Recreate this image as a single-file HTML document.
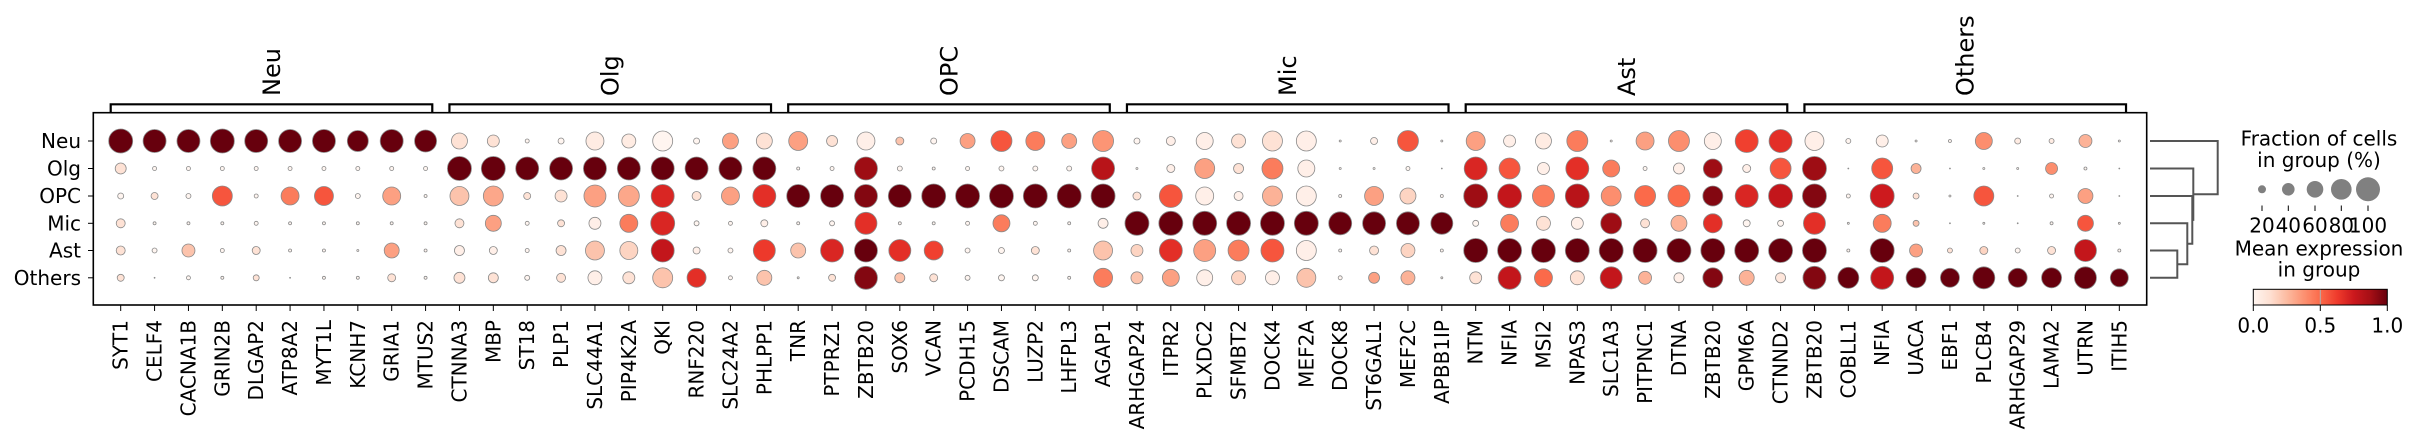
<!DOCTYPE html>
<html><head><meta charset="utf-8"><style>
html,body{margin:0;padding:0;background:#fff;}
svg{display:block;font-family:"DejaVu Sans","Liberation Sans",sans-serif;}
</style></head><body>
<svg id="s" width="2419" height="442" viewBox="0 0 2419 442" xmlns="http://www.w3.org/2000/svg">
<defs><linearGradient id="g" x1="0" x2="1" y1="0" y2="0">
<stop offset="0" stop-color="#fff5f0"/><stop offset="0.125" stop-color="#fee0d2"/><stop offset="0.25" stop-color="#fcbba1"/><stop offset="0.375" stop-color="#fc9272"/><stop offset="0.5" stop-color="#fb6a4a"/><stop offset="0.625" stop-color="#ef3b2c"/><stop offset="0.75" stop-color="#cb181d"/><stop offset="0.875" stop-color="#a50f15"/><stop offset="1" stop-color="#67000d"/>
</linearGradient></defs>
<rect x="93.3" y="112.7" width="2053.4" height="192.3" fill="none" stroke="#000" stroke-width="1.6"/>
<g id="dots"></g>
<g id="axes" font-size="20" fill="#000"></g>
<g stroke="#555" stroke-width="2" fill="none">
<path d="M2150 141H2217.7V194.2H2193.3"/>
<path d="M2150 168.5H2193.3V219.9H2192.3"/>
<path d="M2150 196H2192.3V243.7H2187.3"/>
<path d="M2150 223.3H2187.3V264.2H2177.3"/>
<path d="M2150 250.5H2177.3V277.8H2150"/>
</g>
<g font-size="20" text-anchor="middle" fill="#000">
<text x="2319" y="145.5">Fraction of cells</text>
<text x="2319" y="167">in group (%)</text>
<circle cx="2262" cy="189.3" r="4" fill="#808080"/>
<circle cx="2288.3" cy="189.3" r="6.3" fill="#808080"/>
<circle cx="2315" cy="189.3" r="8.3" fill="#808080"/>
<circle cx="2341.3" cy="189.3" r="10.3" fill="#808080"/>
<circle cx="2368" cy="189.3" r="12" fill="#808080"/>
<path d="M2262 205.5V211M2288.3 205.5V211M2315 205.5V211M2341.3 205.5V211M2368 205.5V211" stroke="#000" stroke-width="1"/>
<text x="2262" y="232.5">20</text><text x="2288.3" y="232.5">40</text><text x="2315" y="232.5">60</text><text x="2341.3" y="232.5">80</text><text x="2368" y="232.5">100</text>
<text x="2319" y="255.5">Mean expression</text>
<text x="2319" y="276.5">in group</text>
<rect x="2253.3" y="289.3" width="134" height="15.7" fill="url(#g)" stroke="#000" stroke-width="1"/>
<line x1="2320.3" y1="289.8" x2="2320.3" y2="304.5" stroke="#b0b0b0" stroke-width="1"/>
<path d="M2253.3 305V311M2320.3 305V311M2387.3 305V311" stroke="#000" stroke-width="1"/>
<text x="2253.3" y="332.5">0.0</text><text x="2320.3" y="332.5">0.5</text><text x="2387.3" y="332.5">1.0</text>
</g>
</svg>
<script>
var NS="http://www.w3.org/2000/svg";
var stops=[[255,245,240],[254,224,210],[252,187,161],[252,146,114],[251,106,74],[239,59,44],[203,24,29],[165,15,21],[103,0,13]];
function cmap(v){v=Math.max(0,Math.min(1,v));var p=v*8,i=Math.min(7,Math.floor(p)),f=p-i,a=stops[i],b=stops[i+1];
return "rgb("+[0,1,2].map(function(k){return Math.round(a[k]+(b[k]-a[k])*f)}).join(",")+")";}
var rows={
Neu:"24/9 23/9 23/9 24/9 23/9 23/9 23/9 21/9 23/9 22/9 16/1 12/1 4/0 6/0 18/0.5 14/0.5 20/0 6/0 16/3 16/1 19/3 11/1 18/0.3 8/2 6/0 15/3 21/5 19/4 15/3 21/3.3 6/0 9/0.3 17/0.3 14/1 20/1 20/0.3 2/0 7/0.3 21/5 2/0 19/3 12/0.3 16/0.5 21/4 2/0 18/3 21/3.5 17/0.3 23/5.5 23/6 19/0.3 5/0 12/0.3 2/0 3/0 17/3.5 6/0.5 5/0.5 13/2.5 2/0",
Olg:"11/1 4/0 4/0 4/0 4/0 4/0 4/0 4/0 4/0 4/0 24/9 24/9 23/9 23/9 23/9 23/9 23/9 23/9 23/9 23/9 3/0 4/0 23/8 5/0 3/0 4/0 5/0 5/0 5/0 23/7.3 2/0 8/0.3 20/3 10/1 21/4 17/0.3 2/0 2/0 4/0 1/0 23/6.3 21/5 12/0.3 23/6 17/4 4/0 11/0.3 19/8 8/0.3 21/5 24/8 1/0 21/5 10/2.5 1/0 2/0 2/0 12/3.5 3/0 1/0",
OPC:"6/0 7/1 5/0 20/5 4/0 18/4 19/5 5/0 18/3 3/0 19/2 20/2.8 7/1 12/1 22/3 21/2.8 23/6.3 9/1 18/3 23/6 23/9 23/9 23/8.5 23/9 24/9 24/9 24/9 24/9 24/9 24/9 8/1 23/5 18/0.3 9/0.3 20/2.5 20/0.3 3/0 19/3 16/1.5 3/0 24/8 24/7 22/4 24/7.3 20/3.5 21/4.5 22/4.5 20/8.5 23/6.3 24/7 24/8.5 4/0 24/6.7 6/1 2/0 20/5 1/0 4/0 15/3 1/0",
Mic:"9/1 3/0 3/0 3/0 4/0 3/0 3/0 3/0 3/0 3/0 9/1 16/3 4/0 7/1 12/0.3 18/4 24/6.3 5/0 4/0 7/0.3 3/0 5/0 22/6 3/0 3/0 4/0 17/4 4/0 3/0 10/0.3 24/9 24/9 24/9 24/9 24/9 24/9 23/9 23/9 23/9 22/9 6/0 18/4 14/1 12/0.3 21/8 9/1 16/2.5 19/6 7/0 6/0 22/6 2/0 18/4 6/2 1/0 2/0 1/0 3/0 16/5 2/0",
Ast:"9/1 5/0 13/2 4/0 8/1 3/0 3/0 2/0 15/3 3/0 10/0.3 8/0.3 4/0 10/1 19/2 18/1.5 23/7 7/0.3 5/0 22/5.7 15/2 23/6.3 23/9 22/6 19/5.5 5/0 6/0 8/1 3/0 19/2 12/1.5 23/6 22/3 21/4 23/5 20/0.3 3/0 9/1 14/1.5 3/0 24/9 24/9 24/9 24/9 24/9 24/9 24/9 24/9 24/9 24/9 24/9 3/0 24/9 13/3 5/1 8/1.5 5/0 8/1 22/7 3/0",
Others:"7/1 1/0 4/0 3/0 6/1 1/0 3/0 3/0 8/1 3/0 11/1 10/1 5/0 9/1 14/0.3 12/1 20/2 19/6 4/0 15/2 2/0 7/1 23/8.5 10/2 8/1 5/0 6/0 6/0 3/0 19/4 12/2 17/3 16/0.3 14/1.5 14/0.3 19/2 4/0 11/3 14/2.5 2/0 12/1 23/7 18/4.5 14/1 22/7 13/2.5 10/0.3 20/8.5 15/2.5 10/0.8 23/8.5 21/9 23/7 20/9 19/9 22/9 19/9 20/9 22/9 18/9"
};
var rowY={Neu:141,Olg:168.5,OPC:196,Mic:223.3,Ast:250.5,Others:277.8};
var genes="SYT1 CELF4 CACNA1B GRIN2B DLGAP2 ATP8A2 MYT1L KCNH7 GRIA1 MTUS2 CTNNA3 MBP ST18 PLP1 SLC44A1 PIP4K2A QKI RNF220 SLC24A2 PHLPP1 TNR PTPRZ1 ZBTB20 SOX6 VCAN PCDH15 DSCAM LUZP2 LHFPL3 AGAP1 ARHGAP24 ITPR2 PLXDC2 SFMBT2 DOCK4 MEF2A DOCK8 ST6GAL1 MEF2C APBB1IP NTM NFIA MSI2 NPAS3 SLC1A3 PITPNC1 DTNA ZBTB20 GPM6A CTNND2 ZBTB20 COBLL1 NFIA UACA EBF1 PLCB4 ARHGAP29 LAMA2 UTRN ITIH5".split(" ");
function cx(i){return 120.7+33.875*i;}
var dots=document.getElementById("dots"),ax=document.getElementById("axes");
function el(t,a,p,txt){var e=document.createElementNS(NS,t);for(var k in a)e.setAttribute(k,a[k]);if(txt!=null)e.textContent=txt;p.appendChild(e);return e;}
for(var r in rows){var arr=rows[r].split(" "),y=rowY[r];
 arr.forEach(function(s,i){var p=s.split("/"),d=+p[0],c=+p[1];
  el("circle",{cx:cx(i),cy:y,r:d/2,fill:cmap(c/9),stroke:"#8a8a8a","stroke-width":0.8},dots);});
 el("line",{x1:88,x2:93.3,y1:y,y2:y,stroke:"#000","stroke-width":1},ax);
 el("text",{x:81,y:y+7,"text-anchor":"end"},ax,r);
}
genes.forEach(function(g,i){var x=cx(i);
 el("line",{x1:x,x2:x,y1:305,y2:311,stroke:"#000","stroke-width":1},ax);
 el("text",{x:0,y:0,"text-anchor":"end",transform:"translate("+(x+7)+",320) rotate(-90)"},ax,g);
});
var groups=["Neu","Olg","OPC","Mic","Ast","Others"];
groups.forEach(function(g,k){var x1=cx(k*10)-10,x2=cx(k*10+9)+6.7;
 el("path",{d:"M"+x1+" 112.7V104.3H"+x2+"V112.7",fill:"none",stroke:"#000","stroke-width":2.2},ax);
 el("text",{x:0,y:0,"font-size":24,"text-anchor":"start",transform:"translate("+((x1+x2)/2+8.5)+",96) rotate(-90)"},ax,g);
});
</script>
</body></html>
